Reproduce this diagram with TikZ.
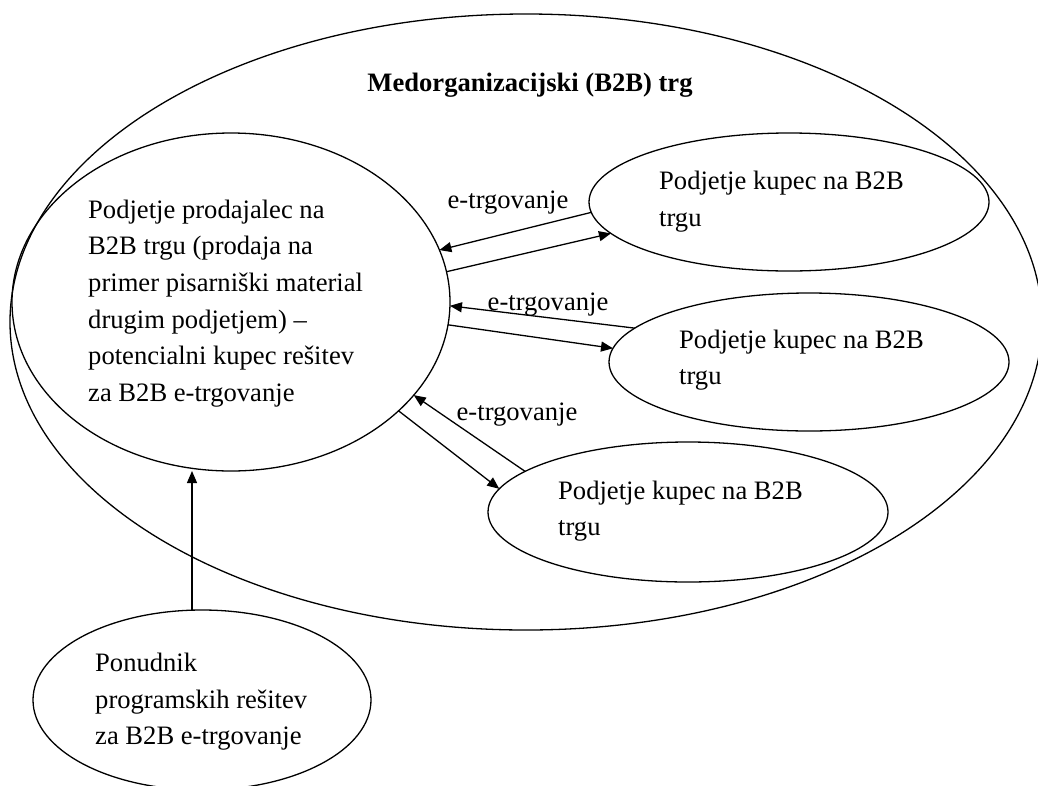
\documentclass[tikz,border=0pt]{standalone}
\usepackage{fontspec}
\setmainfont{Liberation Serif}
\usetikzlibrary{shapes.geometric,arrows.meta}
\begin{document}
\begin{tikzpicture}[x=1pt,y=-1pt,
  oval/.style={ellipse,draw,line width=1.3pt,inner sep=0pt,outer sep=0pt},
  txt/.style={font=\fontsize{26.6}{36.6}\selectfont,align=left,anchor=west,inner sep=0pt},
  lbl/.style={font=\fontsize{26.6}{36.6}\selectfont,inner sep=0pt},
  flow/.style={draw,line width=1.3pt,-{Triangle[length=12pt,width=10pt]}}
]
\useasboundingbox (0,0) rectangle (1038,785);

% the market and the firms in it
\node[oval,minimum width=1032pt,minimum height=616pt] (market) at (526,322) {};
\node[oval,minimum width=438pt,minimum height=338pt] (seller) at (231,302) {};
\node[oval,minimum width=400pt,minimum height=138pt] (buyerA) at (789,202) {};
\node[oval,minimum width=400pt,minimum height=138pt] (buyerB) at (809,362) {};
\node[oval,minimum width=400pt,minimum height=140pt] (buyerC) at (688,512) {};
\node[oval,minimum width=338pt,minimum height=180pt] (vendor) at (202,700) {};

% texts
\node[lbl,font={\fontsize{26.6}{36.6}\selectfont\bfseries}] (title) at (530,85) {Medorganizacijski (B2B) trg};
\node[txt] (sellertext) at (88,303.5) {Podjetje prodajalec na\\B2B trgu (prodaja na\\primer pisarniški material\\drugim podjetjem) –\\potencialni kupec rešitev\\za B2B e-trgovanje};
\node[txt] (buyerAtext) at (659,201.5) {Podjetje kupec na B2B\\trgu};
\node[txt] (buyerBtext) at (679,360) {Podjetje kupec na B2B\\trgu};
\node[txt] (buyerCtext) at (558,511) {Podjetje kupec na B2B\\trgu};
\node[txt] (vendortext) at (95,702) {Ponudnik\\programskih rešitev\\za B2B e-trgovanje};

% trading flows
\draw[flow] (buyerA.183) -- (seller.14);
\draw[flow] (seller.8) -- (buyerA.190);
\draw[flow] (buyerB.169) -- (seller.-1);
\draw[flow] (seller.-6) -- (buyerB.176);
\draw[flow] (buyerC.166) -- (seller.-27);
\draw[flow] (seller.-33) -- (buyerC.173);
\draw[flow] ([xshift=-10pt]vendor.north) -- ([xshift=-10pt]vendor.north |- seller.south);

\node[lbl] (tradeA) at (508,203) {e-trgovanje};
\node[lbl] (tradeB) at (548,305) {e-trgovanje};
\node[lbl] (tradeC) at (517,415) {e-trgovanje};
\end{tikzpicture}
\end{document}
